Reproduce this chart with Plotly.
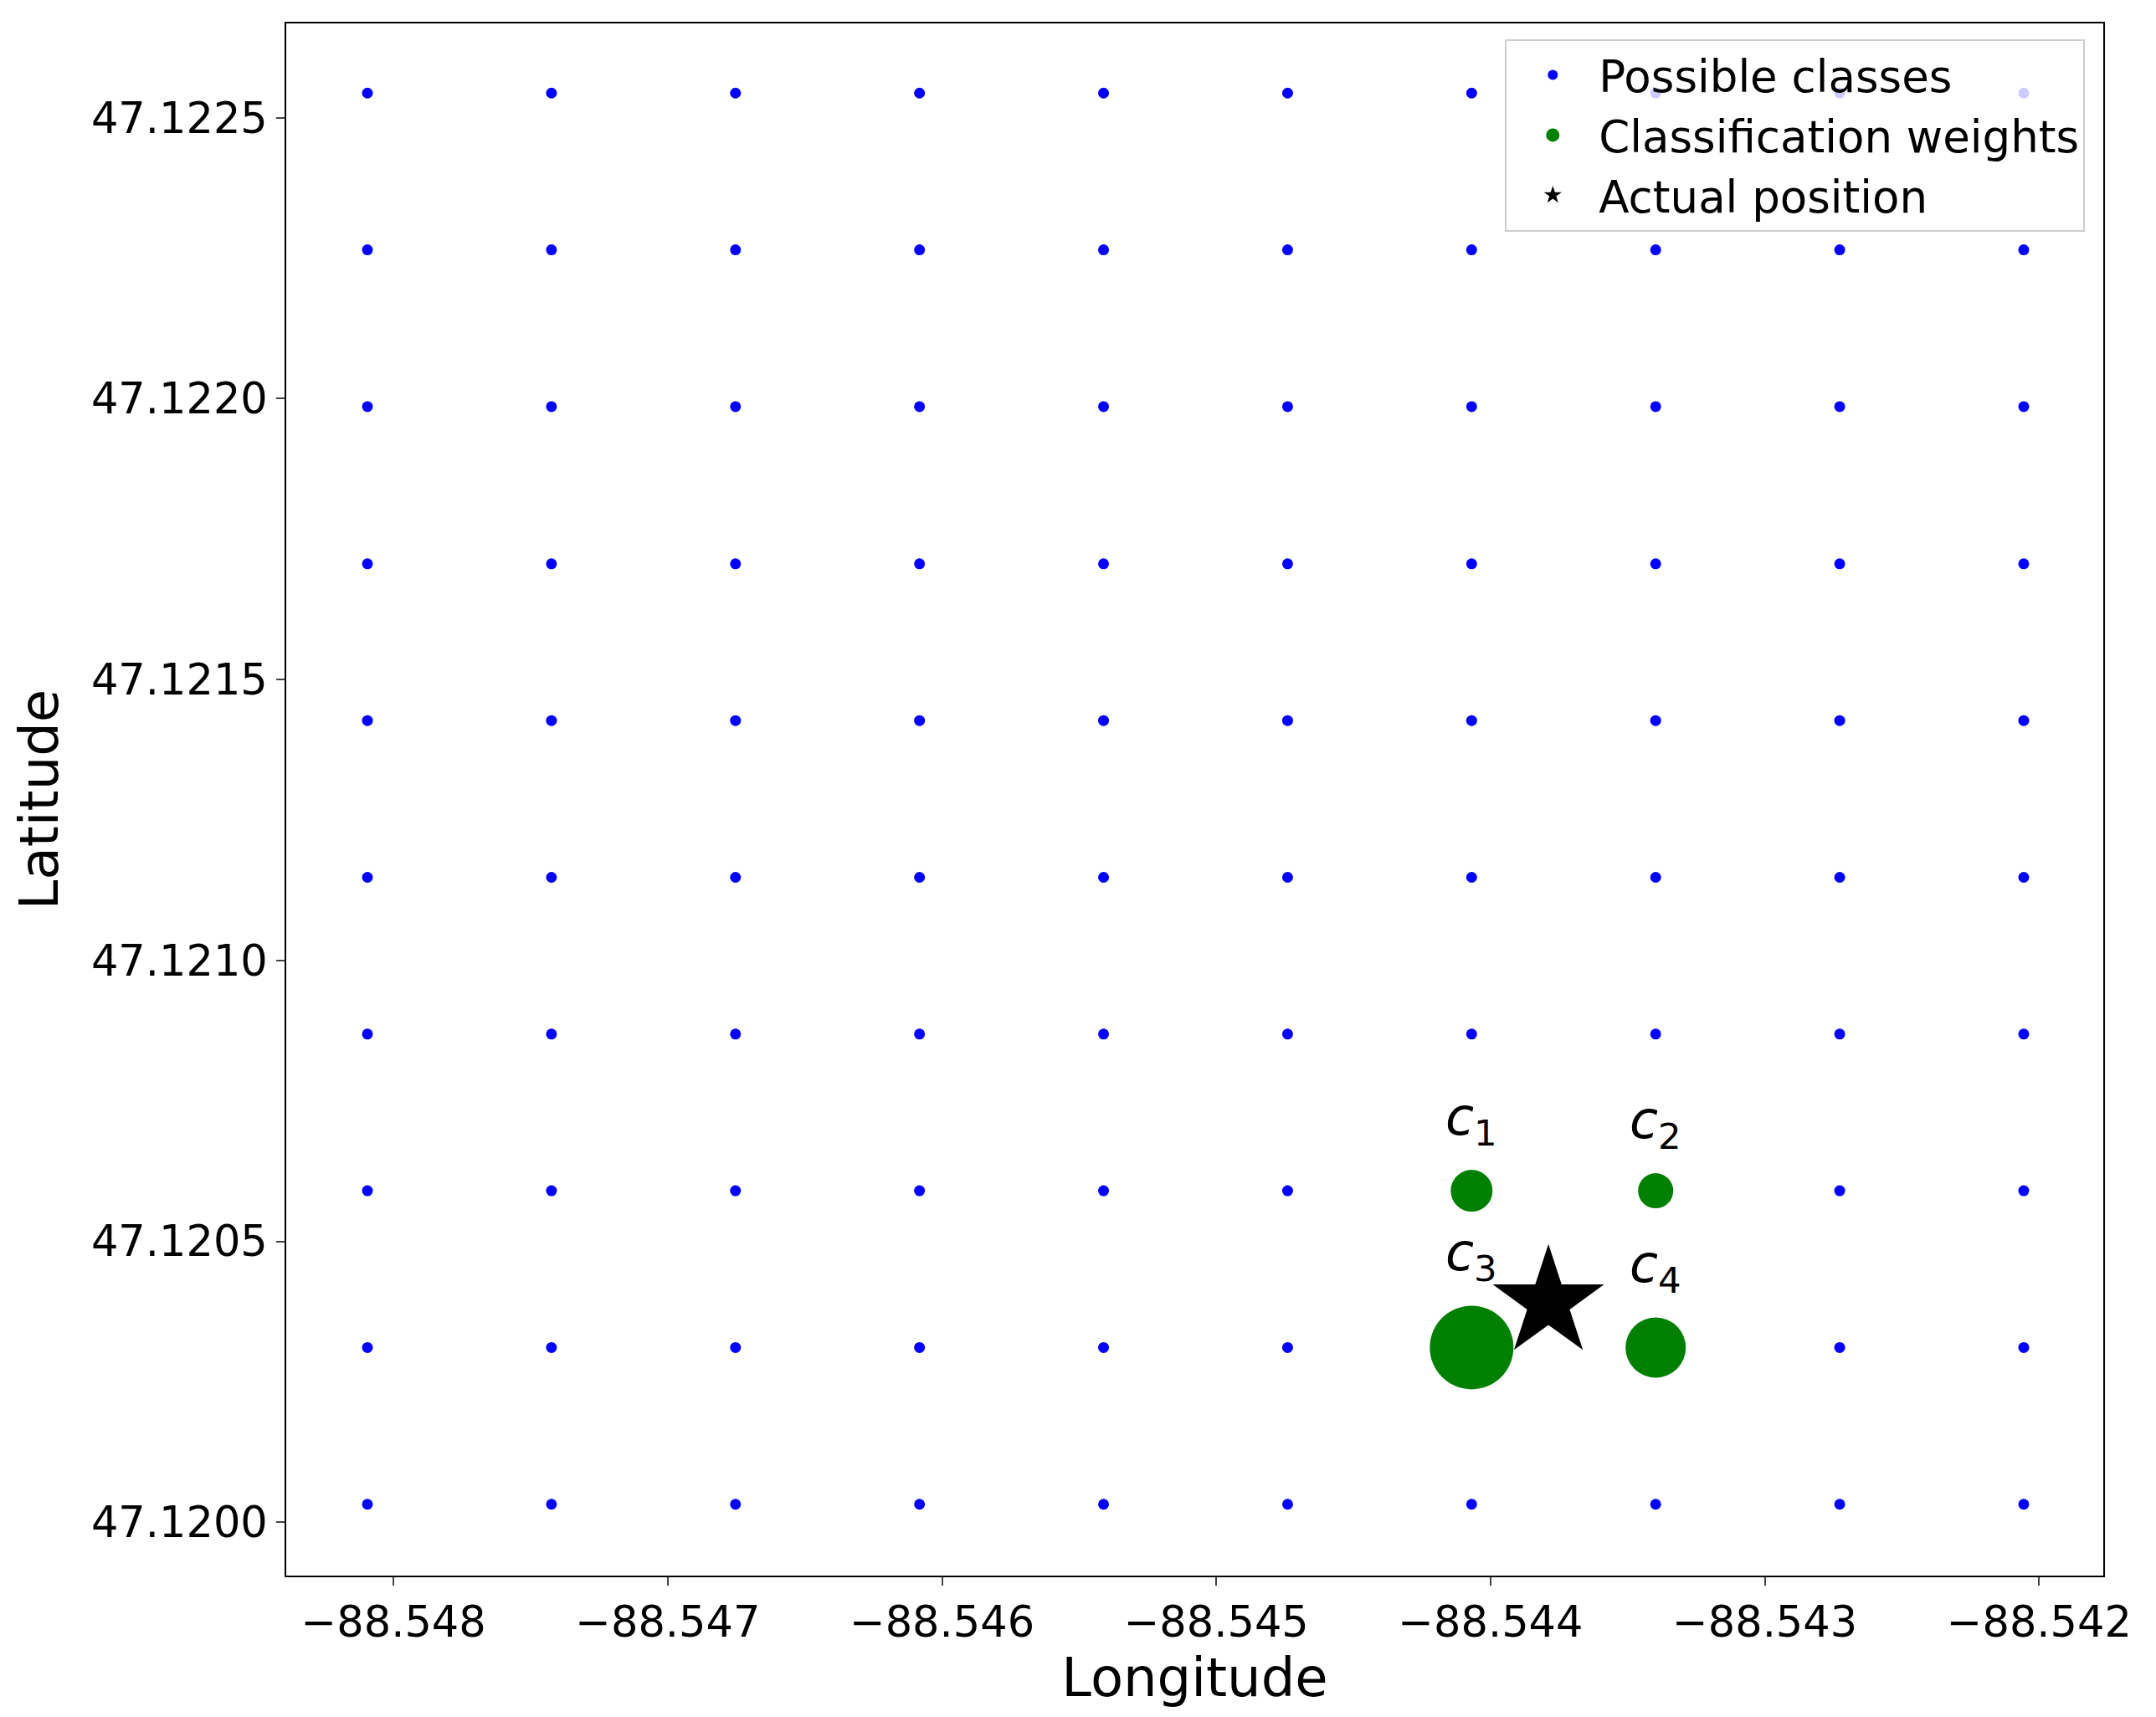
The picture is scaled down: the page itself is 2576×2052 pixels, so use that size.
import plotly.graph_objects as go
import numpy as np

lons = [-88.548095, -88.547424, -88.546753, -88.546082, -88.545411,
        -88.544740, -88.544069, -88.543398, -88.542727, -88.542056]
lats = [47.120032, 47.120311, 47.120590, 47.120869, 47.121148,
        47.121427, 47.121706, 47.121986, 47.122265, 47.122544]
w_lons = [-88.544069, -88.543398, -88.544069, -88.543398]
w_lats = [47.120590, 47.120590, 47.120311, 47.120311]
w_sizes = [50, 42, 100, 72]
w_labels = ["c", "c", "c", "c"]
w_subs = ["1", "2", "3", "4"]
star_lon, star_lat = -88.543789, 47.120391

gx, gy = np.meshgrid(lons, lats)
fig = go.Figure()
fig.add_trace(go.Scatter(x=gx.ravel(), y=gy.ravel(), mode="markers", showlegend=False,
                         marker=dict(color="blue", size=13, line_width=0)))
fig.add_trace(go.Scatter(x=w_lons, y=w_lats, mode="markers", showlegend=False,
                         marker=dict(color="green", size=w_sizes, opacity=1, line_width=0)))
fig.add_trace(go.Scatter(x=[star_lon], y=[star_lat], mode="markers", showlegend=False,
                         marker=dict(color="black", size=100, symbol="star", line_width=0)))
# legend entries
fig.add_trace(go.Scatter(x=[None], y=[None], mode="markers", name="Possible classes",
                         marker=dict(color="blue", size=12)))
fig.add_trace(go.Scatter(x=[None], y=[None], mode="markers", name="Classification weights",
                         marker=dict(color="green", size=40)))
fig.add_trace(go.Scatter(x=[None], y=[None], mode="markers", name="Actual position",
                         marker=dict(color="black", size=36, symbol="star")))
for x, y, t, sub, s in zip(w_lons, w_lats, w_labels, w_subs, w_sizes):
    fig.add_annotation(x=x, y=y, text="<i>" + t + "</i><sub>" + sub + "</sub>", showarrow=False,
                       yshift=s / 2 + 60, font=dict(size=62, color="black"))

axis = dict(showgrid=False, zeroline=False, showline=True, linecolor="black", linewidth=2,
            mirror=True, ticks="outside", ticklen=10, tickwidth=2,
            tickfont=dict(size=51, color="black"), title_font=dict(size=64, color="black"))
fig.update_xaxes(**axis, range=[-88.548391, -88.541766], dtick=0.001, tick0=-88.548,
                 tickformat=".3f", title_text="Longitude", title_standoff=12)
fig.update_yaxes(**axis, range=[47.119905, 47.122668], dtick=0.0005, tick0=47.12,
                 tickformat=".4f", title_text="Latitude", title_standoff=18)
fig.update_layout(
    width=2576, height=2052, plot_bgcolor="white", paper_bgcolor="white",
    margin=dict(l=334, r=71, t=20, b=177),
    font=dict(family="DejaVu Sans", color="black"),
    legend=dict(x=0.99, y=0.99, xanchor="right", yanchor="top",
                bordercolor="#cccccc", borderwidth=2, bgcolor="rgba(255,255,255,0.8)",
                font=dict(size=53), itemsizing="trace", itemwidth=100),
)
fig.write_html("out.html")
